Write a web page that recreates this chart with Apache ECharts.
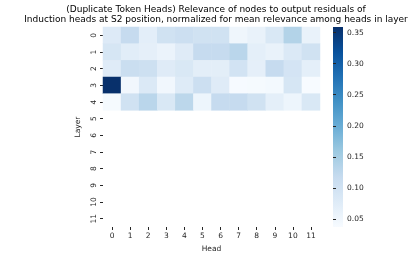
<!DOCTYPE html>
<html><head><meta charset="utf-8">
<script src="https://cdn.jsdelivr.net/npm/echarts@6/dist/echarts.min.js"></script>
<style>html,body{margin:0;padding:0;background:#fff}#c{width:416px;height:261px}</style>
</head><body><div id="c"></div>
<script>
const heads = ['0','1','2','3','4','5','6','7','8','9','10','11'];
const layers = ['0','1','2','3','4','5','6','7','8','9','10','11'];
const layer0 = [0.079,0.118,0.069,0.100,0.108,0.100,0.100,0.050,0.060,0.085,0.137,0.060];
const layer1 = [0.090,0.072,0.066,0.057,0.076,0.118,0.118,0.130,0.068,0.060,0.082,0.100];
const layer2 = [0.076,0.111,0.105,0.076,0.085,0.070,0.070,0.098,0.066,0.118,0.094,0.068];
const layer3 = [0.359,0.047,0.082,0.047,0.077,0.108,0.076,0.039,0.040,0.043,0.090,0.037];
const layer4 = [0.040,0.100,0.130,0.085,0.128,0.053,0.118,0.118,0.100,0.068,0.053,0.085];
const colorbarTicks = [0.05,0.10,0.15,0.20,0.25,0.30,0.35];
const vMin = 0.037, vMax = 0.359;

const blues = ['#f7fbff','#deebf7','#c6dbef','#9ecae1','#6baed6','#4292c6','#2171b5','#08519c','#08306b'];
const rows = [layer0, layer1, layer2, layer3, layer4];
const data = [];
rows.forEach((r, li) => r.forEach((v, hi) => data.push([hi, li, v])));

const font = 'DejaVu Sans';
const txt = '#262626';
const chart = echarts.init(document.getElementById('c'), null, {renderer: 'canvas'});
chart.setOption({
  animation: false,
  textStyle: {fontFamily: font},
  title: {
    text: '(Duplicate Token Heads) Relevance of nodes to output residuals of\nInduction heads at S2 position, normalized for mean relevance among heads in layer',
    left: 211, textAlign: 'center', top: 0,
    textStyle: {fontFamily: font, fontSize: 9, fontWeight: 'normal', color: '#000', lineHeight: 10}
  },
  grid: [
    {left: 103, top: 27, width: 217, height: 200},
    {left: 333, top: 27, width: 10, height: 200}
  ],
  xAxis: [
    {type: 'category', data: heads, gridIndex: 0, position: 'bottom',
     axisLine: {show: false}, axisTick: {show: true, alignWithLabel: true, length: 3, lineStyle: {color: txt}},
     axisLabel: {fontSize: 7.5, color: txt, margin: 5, fontFamily: font},
     splitLine: {show: false}, splitArea: {show: false},
     name: 'Head', nameLocation: 'middle', nameGap: 18, nameTextStyle: {fontSize: 7.5, color: txt, fontFamily: font}},
    {type: 'value', gridIndex: 1, show: false, min: 0, max: 1}
  ],
  yAxis: [
    {type: 'category', data: layers, gridIndex: 0, inverse: true,
     axisLine: {show: false}, axisTick: {show: true, alignWithLabel: true, length: 3, lineStyle: {color: txt}},
     axisLabel: {fontSize: 7.5, color: txt, margin: 5, rotate: 90, fontFamily: font},
     splitLine: {show: false}, splitArea: {show: false},
     name: 'Layer', nameLocation: 'middle', nameGap: 17, nameRotate: 90, nameTextStyle: {fontSize: 7.5, color: txt, fontFamily: font}},
    {type: 'value', gridIndex: 1, min: vMin, max: vMax, position: 'right',
     axisLine: {show: false}, splitLine: {show: false},
     axisTick: {show: true, length: 3, customValues: colorbarTicks, lineStyle: {color: txt}},
     axisLabel: {show: true, fontSize: 7.5, color: txt, margin: 4, fontFamily: font, customValues: colorbarTicks,
       formatter: v => v.toFixed(2)}}
  ],
  visualMap: {
    type: 'continuous', min: vMin, max: vMax, seriesIndex: 0, show: false,
    inRange: {color: blues}
  },
  graphic: [{
    type: 'rect', left: 333, top: 27, silent: true,
    shape: {width: 10, height: 200},
    style: {fill: new echarts.graphic.LinearGradient(0, 1, 0, 0,
      blues.map((c, i) => ({offset: i / (blues.length - 1), color: c})))}
  }],
  series: [
    {type: 'heatmap', xAxisIndex: 0, yAxisIndex: 0, data: data, itemStyle: {borderWidth: 0}},
    {type: 'scatter', xAxisIndex: 1, yAxisIndex: 1, data: []}
  ]
});
</script></body></html>
